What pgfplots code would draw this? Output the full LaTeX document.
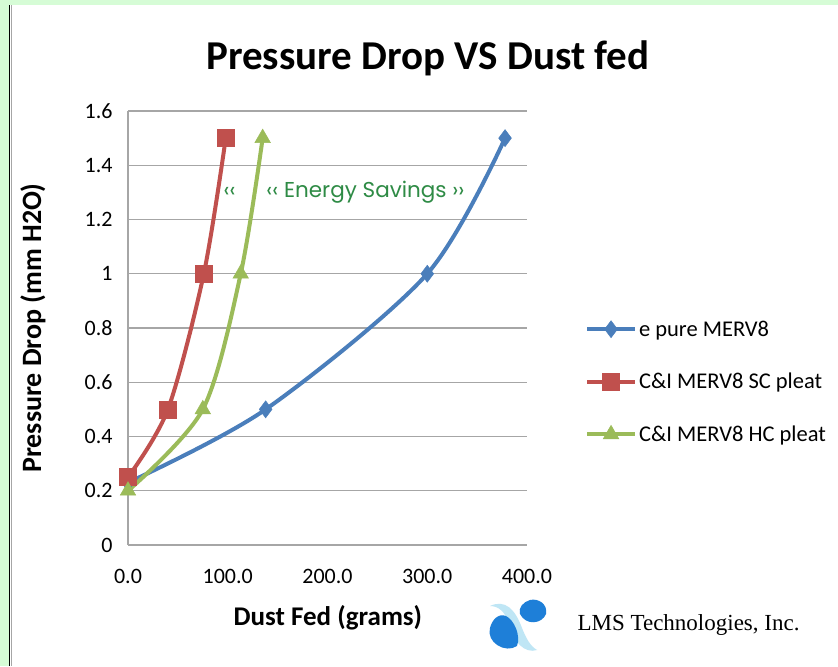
\documentclass[border=0pt]{standalone}
\usepackage{pgfplots}
\pgfplotsset{compat=1.18}
\usepackage{fontspec}
\setmainfont{Carlito}
\newfontfamily\serifL{Liberation Serif}
\newfontfamily\comic{Poppins}
\definecolor{bgreen}{HTML}{D6FCD6}
\definecolor{sblue}{HTML}{4A7EBB}
\definecolor{sred}{HTML}{C0504D}
\definecolor{sgreen}{HTML}{9BBB59}
\definecolor{txtgreen}{HTML}{2E8B45}
\definecolor{gridgray}{HTML}{A6A6A6}
\definecolor{logodark}{HTML}{1E7FD8}
\definecolor{logolight}{HTML}{BFE6F5}
\begin{document}
\begin{tikzpicture}[x=1pt,y=1pt]
\fill[bgreen] (0,0) rectangle (838,666);
\fill[white] (10,0) rectangle (838,661);
\draw[black,line width=1.5pt] (9.5,0) -- (9.5,661);
\draw[gray!70,line width=1pt] (11,0) -- (11,661);
\path[use as bounding box] (0,0) rectangle (838,666);
\node[font=\fontsize{41}{46}\selectfont\bfseries] at (428,608) {Pressure Drop VS Dust fed};
\begin{axis}[
  at={(128pt,121pt)}, anchor=south west,
  scale only axis, width=399pt, height=434pt,
  xmin=0, xmax=400, ymin=0, ymax=1.6,
  axis x line*=bottom, axis y line*=left,
  axis line style={gridgray,line width=1.2pt,-},
  ymajorgrids, grid style={gridgray,line width=1.2pt},
  major tick length=0pt,
  xtick={0,100,200,300,400},
  xticklabels={0.0,100.0,200.0,300.0,400.0},
  ytick={0,0.2,0.4,0.6,0.8,1,1.2,1.4,1.6},
  yticklabels={0,0.2,0.4,0.6,0.8,1,1.2,1.4,1.6},
  ticklabel style={font=\fontsize{22}{26}\selectfont},
  yticklabel style={xshift=-12pt},
  xticklabel style={yshift=-21pt},
  xlabel={Dust Fed (grams)},
  ylabel={Pressure Drop (mm H2O)},
  xlabel style={font=\fontsize{27}{32}\selectfont\bfseries,at={(axis description cs:0.501,-0.168)},anchor=center},
  ylabel style={font=\fontsize{28}{32}\selectfont\bfseries,at={(axis description cs:-0.238,0.5)},anchor=center},
  legend style={at={(axis description cs:1.145,0.376)},anchor=west,draw=none,fill=none,
    font=\fontsize{22.5}{27}\selectfont,row sep=31.5pt,inner sep=0pt},
  legend cell align=left,
  legend image code/.code={\draw[mark repeat=2,mark phase=2,#1] plot coordinates {(0pt,0pt) (24pt,0pt) (48pt,0pt)};},
  clip=false,
]
\addplot[sblue,line width=4pt,smooth,mark=diamond*,mark size=8.5pt,mark options={solid,line width=0.5pt}]
  coordinates {(0,0.23) (138,0.5) (300,1.0) (378,1.5)};
\addlegendentry{e pure MERV8}
\addplot[sred,line width=4pt,smooth,mark=square*,mark size=8.5pt,mark options={solid,line width=0.5pt}]
  coordinates {(0,0.25) (40,0.5) (76,1.0) (98,1.5)};
\addlegendentry{C\&I MERV8 SC pleat}
\addplot[sgreen,line width=4pt,smooth,mark=triangle*,mark size=9pt,mark options={solid,line width=0.5pt}]
  coordinates {(0,0.2) (75,0.5) (113,1.0) (135,1.5)};
\addlegendentry{C\&I MERV8 HC pleat}
\node[txtgreen,font=\fontsize{21.5}{25}\selectfont\comic] at (axis cs:102,1.3) {‹‹};
\node[txtgreen,font=\fontsize{21.5}{25}\selectfont\comic] at (axis cs:238,1.3) {‹‹ Energy Savings ››};
\end{axis}
% logo
\fill[logolight] (490,60) .. controls (505,67) and (515,57) .. (522,38) .. controls (526,28) and (530,20) .. (537,16) .. controls (525,12) and (513,24) .. (509,42) .. controls (505,55) and (498,60) .. (490,60) -- cycle;
\fill[logodark] (490,38) .. controls (486,24) and (505,12) .. (517,20) .. controls (521,31) and (514,46) .. (506,50) .. controls (498,53) and (492,46) .. (490,38) -- cycle;
\fill[logodark] (520,52) .. controls (526,40) and (542,42) .. (546,52) .. controls (548,62) and (538,68) .. (530,66) .. controls (523,64) and (518,58) .. (520,52) -- cycle;
\node[font=\fontsize{23}{27}\selectfont\serifL,anchor=west] at (574,41) {LMS Technologies, Inc.};
\end{tikzpicture}
\end{document}
